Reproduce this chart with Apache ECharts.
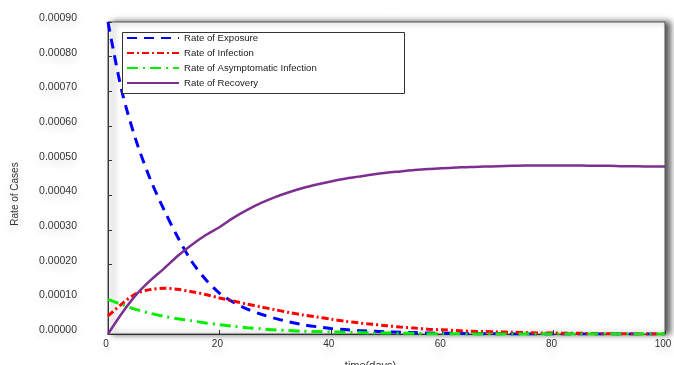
<!DOCTYPE html>
<html>
<head>
<meta charset="utf-8">
<script src="https://cdn.jsdelivr.net/npm/echarts@6/dist/echarts.min.js"></script>
<style>
  html, body { margin: 0; padding: 0; background: #fff; }
  #chart { width: 674px; height: 365px; }
</style>
</head>
<body>
<div id="chart"></div>
<script>
// Time axis (days), sampled every 2.5 days, and the four rate curves on it
var days = [0, 2.5, 5, 7.5, 10, 12.5, 15, 17.5, 20, 22.5, 25, 27.5, 30, 32.5, 35, 37.5, 40, 42.5, 45, 47.5, 50,
            52.5, 55, 57.5, 60, 62.5, 65, 67.5, 70, 72.5, 75, 77.5, 80, 82.5, 85, 87.5, 90, 92.5, 95, 97.5, 100];
var exposure = [0.00090, 0.00070, 0.00056, 0.00045, 0.00036, 0.00028, 0.00021, 0.000158, 0.000118, 0.000092, 0.000072,
                0.000057, 0.000045, 0.000035, 0.000027, 0.000021, 0.000016, 0.000013, 0.00001, 0.000008, 0.000006,
                0.000005, 0.000004, 0.000003, 0.000002, 0.000002, 0.000001, 0.000001, 0.000001, 0, 0,
                0, 0, 0, 0, 0, 0, 0, 0, 0, 0];
var infection = [0.000052, 0.000087, 0.000116, 0.000128, 0.000132, 0.000129, 0.000122, 0.000114, 0.000104, 0.000095, 0.000086,
                 0.000078, 0.00007, 0.000062, 0.000055, 0.000049, 0.000043, 0.000037, 0.000032, 0.000028, 0.000024,
                 0.00002, 0.000017, 0.000014, 0.000012, 0.00001, 0.000008, 0.000007, 0.000006, 0.000005, 0.000004,
                 0.000003, 0.000003, 0.000002, 0.000002, 0.000001, 0.000001, 0.000001, 0, 0, 0];
var asymptomatic = [0.0001, 0.000085, 0.000071, 0.00006, 0.000051, 0.000044, 0.000038, 0.000032, 0.000027, 0.000022, 0.000018,
                    0.000015, 0.000012, 0.00001, 0.000008, 0.000007, 0.000006, 0.000005, 0.000004, 0.000003, 0.000003,
                    0.000002, 0.000002, 0.000001, 0.000001, 0.000001, 0, 0, 0, 0, 0,
                    0, 0, 0, 0, 0, 0, 0, 0, 0, 0];
var recovery = [0, 0.00006, 0.000112, 0.000153, 0.000188, 0.000225, 0.000257, 0.000285, 0.000308, 0.000335, 0.000358,
                0.000378, 0.000395, 0.000409, 0.000421, 0.000431, 0.00044, 0.000448, 0.000454, 0.00046, 0.000465,
                0.000469, 0.000473, 0.000476, 0.000478, 0.00048, 0.000482, 0.000483, 0.000484, 0.000485, 0.000486,
                0.000486, 0.000486, 0.000486, 0.000486, 0.000485, 0.000485, 0.000484, 0.000484, 0.000483, 0.000483];
var seriesNames = ['Rate of Exposure', 'Rate of Infection', 'Rate of Asymptomatic Infection', 'Rate of Recovery'];

function pairs(ys) {
  return days.map(function (d, i) { return [d, ys[i]]; });
}

var FONT = '"Liberation Sans", Arial, sans-serif';
var haze = {
  textShadowColor: 'rgba(0,0,0,0.18)',
  textShadowBlur: 8,
  textShadowOffsetY: 5
};

var chart = echarts.init(document.getElementById('chart'));
chart.setOption({
  animation: false,
  backgroundColor: '#fff',
  grid: {
    left: 108, right: 9, top: 22, bottom: 31,
    outerBoundsMode: 'none',
    containLabel: false,
    show: true,
    backgroundColor: '#fff',
    borderColor: '#555',
    borderWidth: 1,
    shadowColor: 'rgba(0,0,0,0.65)',
    shadowBlur: 6,
    shadowOffsetX: 5
  },
  graphic: [{
    type: 'rect',
    left: 122, top: 32,
    shape: { width: 282, height: 61 },
    style: { fill: '#fff', stroke: '#333', lineWidth: 1 },
    z: 5
  }],
  legend: {
    orient: 'vertical',
    left: 126, top: 33,
    padding: 0,
    itemWidth: 52,
    itemHeight: 10,
    itemGap: 5,
    z: 10,
    itemStyle: { opacity: 0 },
    textStyle: { fontFamily: FONT, fontSize: 9.6, color: '#222', padding: [0, 0, 2, 0] },
    data: seriesNames
  },
  xAxis: {
    type: 'value',
    min: 0, max: 100, interval: 20,
    name: 'time(days)',
    nameLocation: 'middle',
    nameGap: 26,
    nameTextStyle: Object.assign({ fontFamily: FONT, fontSize: 11, color: '#333', padding: [0, 32, 0, 0] }, haze),
    axisLine: { lineStyle: { color: '#333', width: 1 } },
    axisTick: { inside: true, length: 4, lineStyle: { color: '#333' } },
    axisLabel: Object.assign({ fontFamily: FONT, fontSize: 10, color: '#333', margin: 5, padding: [0, 4, 0, 0] }, haze),
    splitLine: { show: false }
  },
  yAxis: {
    type: 'value',
    min: 0, max: 0.0009, interval: 0.0001,
    name: 'Rate of Cases',
    nameLocation: 'middle',
    nameGap: 88,
    nameTextStyle: Object.assign({ fontFamily: FONT, fontSize: 10, color: '#333', padding: [0, 32, 0, 0] }, haze),
    axisLine: { show: true, lineStyle: { color: '#333', width: 1 } },
    axisTick: { show: true, inside: true, length: 4, lineStyle: { color: '#333' } },
    axisLabel: Object.assign({
      fontFamily: FONT, fontSize: 10.5, color: '#333', margin: 31,
      verticalAlign: 'bottom',
      lineHeight: 8,
      formatter: function (v) { return v.toFixed(5); }
    }, haze),
    splitLine: { show: false }
  },
  series: [
    {
      name: seriesNames[0], type: 'line', data: pairs(exposure),
      smooth: 0.3, symbol: 'none', z: 3,
      lineStyle: { color: '#0000ff', width: 3, type: [10, 7] },
      itemStyle: { color: '#0000ff' }
    },
    {
      name: seriesNames[1], type: 'line', data: pairs(infection),
      smooth: 0.3, symbol: 'none', z: 3,
      lineStyle: { color: '#ff0000', width: 3, type: [7, 3, 2, 3] },
      itemStyle: { color: '#ff0000' }
    },
    {
      name: seriesNames[2], type: 'line', data: pairs(asymptomatic),
      smooth: 0.3, symbol: 'none', z: 3,
      lineStyle: { color: '#00ee00', width: 3, type: [11, 5, 2, 5] },
      itemStyle: { color: '#00ee00' }
    },
    {
      name: seriesNames[3], type: 'line', data: pairs(recovery),
      smooth: 0.3, symbol: 'none', z: 4,
      lineStyle: { color: '#7d2f90', width: 2.5 },
      itemStyle: { color: '#7d2f90' }
    }
  ]
});
</script>
</body>
</html>
